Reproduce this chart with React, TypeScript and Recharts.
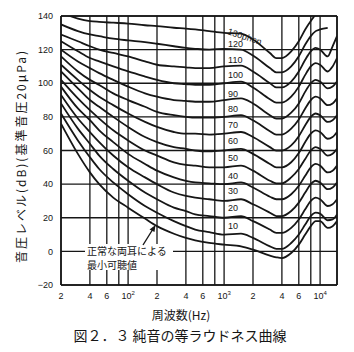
import { LineChart, Line, XAxis, YAxis, CartesianGrid, ReferenceLine, ReferenceDot } from 'recharts';

const freqs = [20, 30, 40, 50, 70, 100, 150, 200, 300, 400, 500, 700, 1000, 1500, 2000, 3000, 3500, 4000, 5000, 6000, 7000, 8000, 9000, 10000, 12000, 13500, 15000];

// sound pressure level (dB) for each curve
const maf = [76, 58, 47, 40, 32, 26, 19.5, 15, 10.5, 8, 6.5, 5, 4, 3, 1, -2.5, -3.5, -4, -1, 4, 10, 15, 18, 18, 14, 15, 18];
const phon10 = [82, 66, 56, 49, 41, 34, 27, 23, 18, 15, 13, 11.5, 10, 10.5, 8, 3, 1.5, 1.5, 5, 10, 16, 21, 23, 22.5, 18.5, 19, 22];
const phon20 = [88, 73, 64, 57, 49, 42, 35, 31, 26, 24, 22, 21, 20, 21, 18, 13, 11, 11, 14, 19, 25, 30, 32, 31, 27, 28, 31];
const phon30 = [93, 79, 71, 65, 57, 50, 44, 40, 35, 33, 32, 31, 30, 31, 28, 23, 21, 21, 24, 29, 35, 40, 42, 41, 37, 38, 41];
const phon40 = [98, 85, 78, 72, 65, 58, 52, 48, 44, 42, 41, 40.5, 40, 41, 38, 32.5, 31, 31, 34, 39, 45, 50, 52, 51, 47, 48, 51];
const phon50 = [102, 91, 84, 79, 72, 66, 60, 57, 53, 51.5, 51, 50, 50, 51, 48, 42, 40.5, 40.5, 44, 49, 55, 60, 62, 61, 57, 58, 61];
const phon60 = [107, 97, 90, 86, 80, 74, 68, 65, 62, 61, 60, 59.5, 60, 61, 58, 52, 50, 50, 53, 58.5, 65, 70, 72, 71, 67, 68, 71];
const phon70 = [111, 102, 96, 92, 87, 82, 77, 74, 71, 70, 70, 69.5, 70, 71, 68, 62, 60, 60, 63, 68.5, 75, 80, 82, 81, 77, 78, 81];
const phon80 = [116, 107, 102, 99, 94, 90, 86, 83, 81, 80, 79.5, 79.5, 80, 81, 78, 71.5, 69.5, 69.5, 73, 78.5, 85, 90, 92, 91, 87, 88, 91];
const phon90 = [120, 113, 109, 106, 102, 98, 94, 92, 90, 89.5, 89, 89, 90, 91, 88, 81, 79, 79, 82.5, 88, 95, 100, 102, 101, 97, 98, 101];
const phon100 = [125, 119, 115, 113, 110, 107, 104, 102, 100, 99.5, 99, 99, 100, 101, 97.5, 90.5, 88.5, 88.5, 92, 98, 105, 110, 112, 111, 107, 110, 115];
const phon110 = [129, 125, 122, 120, 118, 116, 113, 111, 110, 109.5, 109, 109, 110, 110.5, 107, 100, 97.5, 97.5, 101, 107, 114, 119, 121, 120, 116, 122, 128];
const phon120 = [135, 131, 129, 128, 126.5, 125.5, 124.5, 123.5, 122, 121, 120.5, 120, 120.5, 120, 116.5, 109, 106.5, 106.5, 110, 116, 123, 128, 131, 132, 133, null, null];
const phon130 = [142, 138.5, 137, 136.5, 136, 135.5, 134.5, 134, 133, 132.5, 132, 131, 130, 129.5, 126, 118, 115, 115, 119, 125, 132, 137, 141, 144, null, null, null];

const curves = [maf, phon10, phon20, phon30, phon40, phon50, phon60, phon70, phon80, phon90, phon100, phon110, phon120, phon130];

// curve labels and the level where each one sits (just right of 1 kHz)
const curveLabels = ['10', '20', '30', '40', '50', '60', '70', '80', '90', '100', '110', '120'];
const curveLabelDb = [15, 26, 36, 45, 55.5, 65.5, 75, 85, 93.5, 105, 114, 123.5];

const xTicks = [20, 40, 60, 80, 100, 200, 400, 600, 800, 1000, 2000, 4000, 6000, 8000, 10000];
const xTickLabels = ['2', '4', '6', '', '10^2', '2', '4', '6', '', '10^3', '2', '4', '6', '', '10^4'];
const yTicks = [-20, 0, 20, 40, 60, 80, 100, 120, 140];

const data = freqs.map((f, i) => {
  const row: Record<string, number | null> = { f };
  curves.forEach((c, k) => {
    row['c' + k] = c[i];
  });
  return row;
});

const ink = '#161616';
const font = '"Liberation Sans", "DejaVu Sans", sans-serif';
const jp = '"Noto Sans CJK JP", sans-serif';

const XTick = ({ x, y, payload }: any) => {
  const label = xTickLabels[xTicks.indexOf(payload.value)] || '';
  if (!label) return null;
  const [base, pow] = label.split('^');
  return (
    <text x={x} y={y} dy="0.71em" textAnchor="middle" fontSize={9} fill={ink} fontFamily={font}>
      {base}
      {pow && (
        <tspan fontSize={6} dy={-4}>
          {pow}
        </tspan>
      )}
    </text>
  );
};

const CurveLabel = ({ viewBox, value }: any) => (
  <text x={viewBox.x} y={viewBox.y} dy="0.35em" fontSize={9} fill={ink} fontFamily={font}>
    {value}
  </text>
);

const TopLabel = ({ viewBox }: any) => (
  <text
    x={viewBox.x}
    y={viewBox.y}
    dy="0.35em"
    fontSize={9}
    fill={ink}
    fontFamily={font}
    transform={`rotate(18 ${viewBox.x} ${viewBox.y})`}
  >
    130phon
  </text>
);

export default function App() {
  return (
    <div style={{ position: 'absolute', left: 0, top: 0, width: 354, height: 352, background: '#fff' }}>
      <LineChart width={354} height={352} data={data} margin={{ top: 16, right: 17, bottom: 37, left: 0 }}>
        <CartesianGrid stroke={ink} strokeWidth={1.3} />
        <XAxis
          dataKey="f"
          type="number"
          scale="log"
          domain={[20, 15000]}
          ticks={xTicks}
          interval={0}
          tick={<XTick />}
          tickLine={false}
          axisLine={{ stroke: ink, strokeWidth: 1.6 }}
          allowDataOverflow
          height={30}
        />
        <YAxis
          type="number"
          domain={[-20, 140]}
          ticks={yTicks}
          interval={0}
          tickFormatter={(v) => (v < 0 ? '\u2212' + Math.abs(v) : String(v))}
          tick={{ fontSize: 9, fill: ink, fontFamily: font }}
          tickLine={false}
          axisLine={{ stroke: ink, strokeWidth: 1.6 }}
          allowDataOverflow
          width={61}
        />
        <ReferenceLine x={15000} stroke={ink} strokeWidth={1.6} />
        <ReferenceLine y={140} stroke={ink} strokeWidth={1.6} />
        {curves.map((_, k) => (
          <Line
            key={k}
            dataKey={'c' + k}
            type="monotone"
            stroke={ink}
            strokeWidth={1.8}
            dot={false}
            isAnimationActive={false}
          />
        ))}
        {curveLabels.map((t, i) => (
          <ReferenceDot
            key={t}
            x={1100}
            y={curveLabelDb[i]}
            r={0}
            fill="none"
            stroke="none"
            label={<CurveLabel value={t} />}
          />
        ))}
        <ReferenceDot x={1100} y={131} r={0} fill="none" stroke="none" label={<TopLabel />} />
      </LineChart>
      <svg
        width={354}
        height={352}
        style={{ position: 'absolute', left: 0, top: 0, pointerEvents: 'none' }}
      >
        <text
          x={20}
          y={156}
          textAnchor="middle"
          dominantBaseline="central"
          fontSize={12}
          letterSpacing={2}
          fill={ink}
          fontFamily={jp}
          transform="rotate(-90 20 156)"
        >
          音圧レベル(dB)(基準音圧20μPa)
        </text>
        <rect x={85} y={244} width={88} height={26} fill="#fff" />
        <text x={87} y={250} dominantBaseline="central" fontSize={10} fill={ink} fontFamily={jp}>
          正常な両耳による
        </text>
        <text x={87} y={264} dominantBaseline="central" fontSize={10} fill={ink} fontFamily={jp}>
          最小可聴値
        </text>
        <line x1={143} y1={245} x2={153} y2={229} stroke={ink} strokeWidth={1.4} />
        <path d="M155.5,225 L149.5,229.5 L154.5,232 Z" fill={ink} />
        <text x={181} y={314} textAnchor="middle" dominantBaseline="central" fontSize={12} fill={ink} fontFamily={jp}>
          周波数(Hz)
        </text>
        <text x={180} y={335} textAnchor="middle" dominantBaseline="central" fontSize={14} fill={ink} fontFamily={jp}>
          図２．３ 純音の等ラウドネス曲線
        </text>
      </svg>
    </div>
  );
}
